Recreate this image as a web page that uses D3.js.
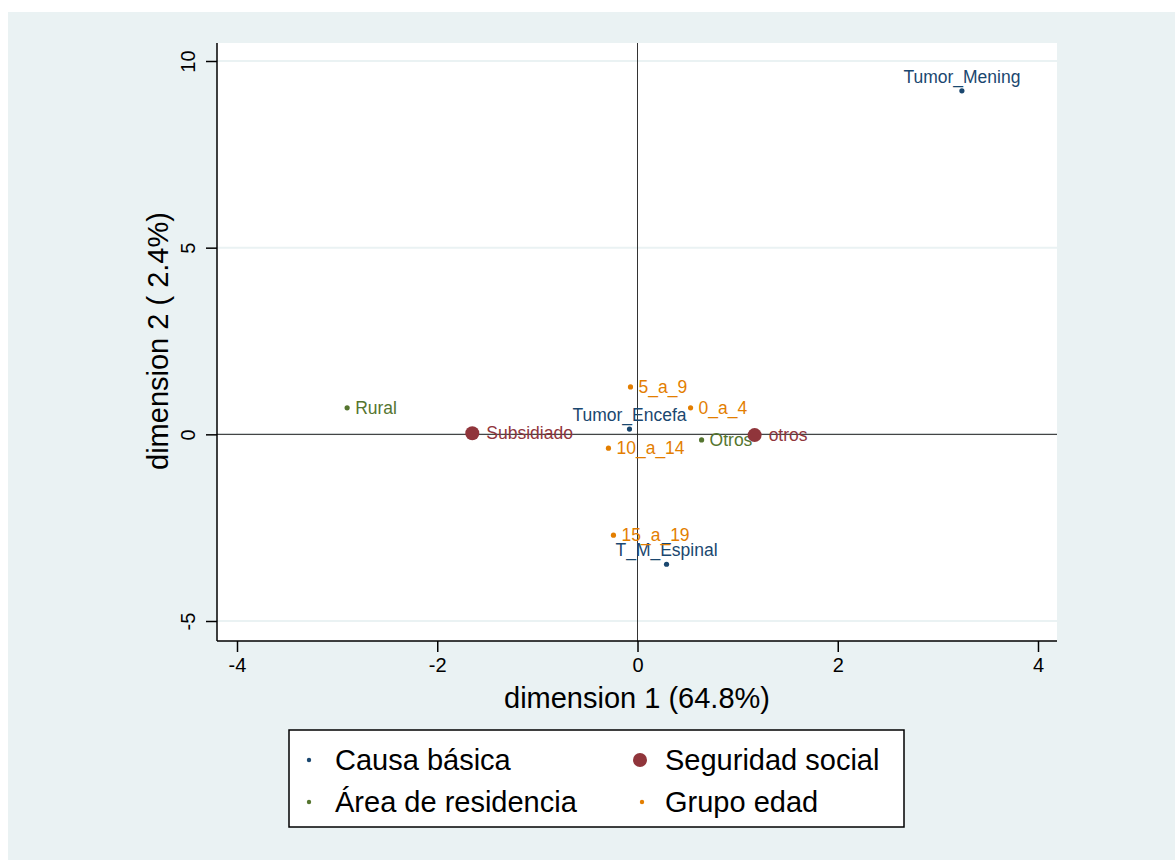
<!DOCTYPE html>
<html>
<head>
<meta charset="utf-8">
<script src="https://cdn.jsdelivr.net/npm/d3@7"></script>
<style>
  body { margin: 0; background: #fff; }
  svg { display: block; font-family: Arial, "Liberation Sans", sans-serif; }
</style>
</head>
<body>
<div id="chart"></div>
<script>
// Koordinaten der Kategorien (dimension 1, dimension 2)
const causaLabels = ["Tumor_Mening", "Tumor_Encefa", "T_M_Espinal"];
const causaX = [3.24, -0.08, 0.29];
const causaY = [9.2, 0.14, -3.48];

const areaLabels = ["Rural", "Otros"];
const areaX = [-2.9, 0.64];
const areaY = [0.71, -0.15];

const seguridadLabels = ["Subsidiado", "otros"];
const seguridadX = [-1.65, 1.17];
const seguridadY = [0.03, -0.02];

const edadLabels = ["5_a_9", "0_a_4", "10_a_14", "15_a_19"];
const edadX = [-0.07, 0.53, -0.29, -0.24];
const edadY = [1.27, 0.71, -0.37, -2.7];

const xTicks = [-4, -2, 0, 2, 4];
const yTicks = [-5, 0, 5, 10];

const legendNames = ["Causa básica", "Seguridad social", "Área de residencia", "Grupo edad"];

const width = 1175;
const height = 860;

const series = [
  { name: "Causa básica", color: "#1a476f", big: false, pos: "top", labels: causaLabels, xs: causaX, ys: causaY },
  { name: "Área de residencia", color: "#55752f", big: false, pos: "right", labels: areaLabels, xs: areaX, ys: areaY },
  { name: "Seguridad social", color: "#90353b", big: true, pos: "right", labels: seguridadLabels, xs: seguridadX, ys: seguridadY },
  { name: "Grupo edad", color: "#e37e00", big: false, pos: "right", labels: edadLabels, xs: edadX, ys: edadY }
];

// Skalen
const x = d3.scaleLinear().domain([-4, 4]).range([237, 1038]);
const y = d3.scaleLinear().domain([-5, 10]).range([621, 61]);

const plotLeft = 217, plotRight = 1057, plotTop = 43, plotBottom = 641;

const svg = d3.select("#chart").append("svg")
  .attr("width", width)
  .attr("height", height)
  .attr("viewBox", [0, 0, width, height]);

// Hintergrund
svg.append("rect")
  .attr("x", 8).attr("y", 12)
  .attr("width", width - 8).attr("height", height - 12)
  .attr("fill", "#eaf2f3");

svg.append("rect")
  .attr("x", plotLeft).attr("y", plotTop)
  .attr("width", plotRight - plotLeft).attr("height", plotBottom - plotTop)
  .attr("fill", "#fff");

// Gitterlinien
svg.append("g")
  .selectAll("line")
  .data(yTicks)
  .join("line")
  .attr("x1", plotLeft).attr("x2", plotRight)
  .attr("y1", d => y(d)).attr("y2", d => y(d))
  .attr("stroke", "#eaf2f3")
  .attr("stroke-width", 2);

// Referenzlinien bei 0
svg.append("line")
  .attr("x1", x(0)).attr("x2", x(0))
  .attr("y1", plotTop).attr("y2", plotBottom)
  .attr("stroke", "#333").attr("stroke-width", 1);
svg.append("line")
  .attr("x1", plotLeft).attr("x2", plotRight)
  .attr("y1", y(0)).attr("y2", y(0))
  .attr("stroke", "#222").attr("stroke-width", 1);

// Beschriftung mit normalem Bindestrich statt Minuszeichen
const fmt = d => String(d);

// X-Achse
svg.append("g")
  .attr("transform", `translate(0,${plotBottom})`)
  .call(d3.axisBottom(x).tickValues(xTicks).tickSize(11).tickPadding(6).tickFormat(fmt))
  .call(g => g.select(".domain").attr("d", `M${plotLeft},0H${plotRight}`).attr("stroke-width", 1.5))
  .call(g => g.selectAll(".tick line").attr("stroke-width", 1.5))
  .call(g => g.selectAll(".tick text").attr("font-size", 20).attr("fill", "#000"));

// Y-Achse (Beschriftung gedreht)
svg.append("g")
  .attr("transform", `translate(${plotLeft},0)`)
  .call(d3.axisLeft(y).tickValues(yTicks).tickSize(11).tickFormat(fmt))
  .call(g => g.select(".domain").attr("d", `M0,${plotTop}V${plotBottom}`).attr("stroke-width", 1.5))
  .call(g => g.selectAll(".tick line").attr("stroke-width", 1.5))
  .call(g => g.selectAll(".tick text")
    .attr("font-size", 20).attr("fill", "#000")
    .attr("x", 0).attr("dy", 0)
    .attr("text-anchor", "middle")
    .attr("transform", "translate(-22,0) rotate(-90)"));

// Achsentitel
svg.append("text")
  .attr("x", 637).attr("y", 708)
  .attr("text-anchor", "middle")
  .attr("font-size", 29)
  .text("dimension 1 (64.8%)");

svg.append("text")
  .attr("transform", "translate(168,341) rotate(-90)")
  .attr("text-anchor", "middle")
  .attr("font-size", 29)
  .text("dimension 2 ( 2.4%)");

// Punkte und Beschriftungen
series.forEach(s => {
  const pts = s.labels.map((l, i) => ({ label: l, x: s.xs[i], y: s.ys[i] }));
  const g = svg.append("g").attr("fill", s.color);
  g.selectAll("circle")
    .data(pts)
    .join("circle")
    .attr("cx", d => x(d.x))
    .attr("cy", d => y(d.y))
    .attr("r", s.big ? 7 : 2.6);
  g.selectAll("text")
    .data(pts)
    .join("text")
    .attr("font-size", 17.5)
    .attr("x", d => s.pos === "top" ? x(d.x) : x(d.x) + (s.big ? 14 : 8))
    .attr("y", d => s.pos === "top" ? y(d.y) - 8 : y(d.y) + 6)
    .attr("text-anchor", s.pos === "top" ? "middle" : "start")
    .text(d => d.label);
});

// Legende
const legend = svg.append("g");
legend.append("rect")
  .attr("x", 289).attr("y", 730)
  .attr("width", 615).attr("height", 97)
  .attr("fill", "#fff")
  .attr("stroke", "#000").attr("stroke-width", 1.5);

const legendPos = [
  { mx: 309, tx: 335, y: 760 },
  { mx: 640, tx: 665, y: 760 },
  { mx: 309, tx: 335, y: 802 },
  { mx: 642, tx: 665, y: 802 }
];
legendNames.forEach((n, i) => {
  const s = series.find(d => d.name === n);
  const p = legendPos[i];
  legend.append("circle")
    .attr("cx", p.mx).attr("cy", p.y)
    .attr("r", s.big ? 7 : 2.2)
    .attr("fill", s.color);
  legend.append("text")
    .attr("x", p.tx).attr("y", p.y + 10)
    .attr("font-size", 29)
    .attr("fill", "#000")
    .text(n);
});
</script>
</body>
</html>
